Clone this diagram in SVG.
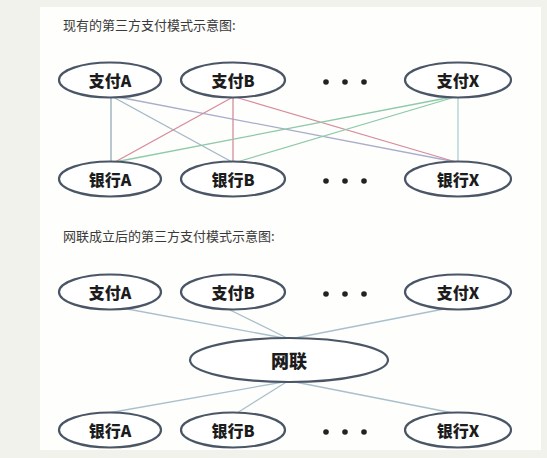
<svg xmlns="http://www.w3.org/2000/svg" width="547" height="458" viewBox="0 0 547 458">
<style>
.node ellipse{fill:#ffffff;stroke:#4a5666;stroke-width:2.2}
.node text{font-family:"Noto Sans CJK SC","Liberation Sans",sans-serif;font-weight:900;font-size:16px;fill:#1c1c1c;text-anchor:middle;dominant-baseline:central}
.title{font-family:"Noto Sans CJK SC","Liberation Sans",sans-serif;font-size:13px;fill:#3a3a3a}
.dots circle{fill:#222}
#connectors line{stroke-width:1.3;fill:none}
.c2{stroke:#a9c0cc}
</style>
<rect x="0" y="0" width="547" height="458" fill="#f2f2ec"/>
<rect x="40" y="7" width="501" height="443" fill="#fefefc"/>
<text class="title" x="63" y="30">现有的第三方支付模式示意图:</text>
<text class="title" x="63" y="241">网联成立后的第三方支付模式示意图:</text>
<g id="connectors">
<line x1="111" y1="97" x2="111" y2="162" stroke="#93aab9"/>
<line x1="113" y1="97" x2="232" y2="162" stroke="#a3b6c6"/>
<line x1="118" y1="97" x2="456" y2="162" stroke="#a8aecb"/>
<line x1="233" y1="97" x2="115" y2="162" stroke="#d68c9c"/>
<line x1="233" y1="97" x2="233" y2="162" stroke="#d68c9c"/>
<line x1="235" y1="97" x2="456" y2="162" stroke="#d68c9c"/>
<line x1="452" y1="97" x2="115" y2="162" stroke="#8ec9a8"/>
<line x1="455" y1="97" x2="237" y2="162" stroke="#8ec9a8"/>
<line x1="458" y1="97" x2="458" y2="162" stroke="#a9d2d2"/>
<line class="c2" x1="122" y1="308" x2="289" y2="339"/>
<line class="c2" x1="226" y1="308" x2="289" y2="339"/>
<line class="c2" x1="449" y1="308" x2="290" y2="339"/>
<line class="c2" x1="289" y1="381" x2="108" y2="413"/>
<line class="c2" x1="288" y1="381" x2="237" y2="413"/>
<line class="c2" x1="290" y1="381" x2="453" y2="413"/>
</g>
<g id="payA1" class="node"><ellipse cx="110" cy="80" rx="51" ry="17.5"/><text x="110" y="80">支付A</text></g>
<g id="payB1" class="node"><ellipse cx="233" cy="80" rx="52" ry="17.5"/><text x="233" y="80">支付B</text></g>
<g id="payX1" class="node"><ellipse cx="458" cy="80" rx="53" ry="17.5"/><text x="458" y="80">支付X</text></g>
<g id="bankA1" class="node"><ellipse cx="110" cy="179" rx="51" ry="17.5"/><text x="110" y="179">银行A</text></g>
<g id="bankB1" class="node"><ellipse cx="233" cy="179" rx="52" ry="17.5"/><text x="233" y="179">银行B</text></g>
<g id="bankX1" class="node"><ellipse cx="458" cy="179" rx="53" ry="17.5"/><text x="458" y="179">银行X</text></g>
<g id="payA2" class="node"><ellipse cx="110" cy="292" rx="51" ry="17.5"/><text x="110" y="292">支付A</text></g>
<g id="payB2" class="node"><ellipse cx="233" cy="292" rx="52" ry="17.5"/><text x="233" y="292">支付B</text></g>
<g id="payX2" class="node"><ellipse cx="458" cy="292" rx="53" ry="17.5"/><text x="458" y="292">支付X</text></g>
<g id="wanglian" class="node"><ellipse cx="289" cy="360" rx="99" ry="22"/><text x="289" y="360" style="font-size:18px">网联</text></g>
<g id="bankA2" class="node"><ellipse cx="110" cy="430" rx="51" ry="17.5"/><text x="110" y="430">银行A</text></g>
<g id="bankB2" class="node"><ellipse cx="233" cy="430" rx="52" ry="17.5"/><text x="233" y="430">银行B</text></g>
<g id="bankX2" class="node"><ellipse cx="458" cy="430" rx="53" ry="17.5"/><text x="458" y="430">银行X</text></g>
<g class="dots">
<circle cx="326" cy="82" r="2.8"/><circle cx="345" cy="82" r="2.8"/><circle cx="364" cy="82" r="2.8"/>
<circle cx="326" cy="181" r="2.8"/><circle cx="345" cy="181" r="2.8"/><circle cx="364" cy="181" r="2.8"/>
<circle cx="326" cy="294" r="2.8"/><circle cx="345" cy="294" r="2.8"/><circle cx="364" cy="294" r="2.8"/>
<circle cx="326" cy="432" r="2.8"/><circle cx="345" cy="432" r="2.8"/><circle cx="364" cy="432" r="2.8"/>
</g>
</svg>
